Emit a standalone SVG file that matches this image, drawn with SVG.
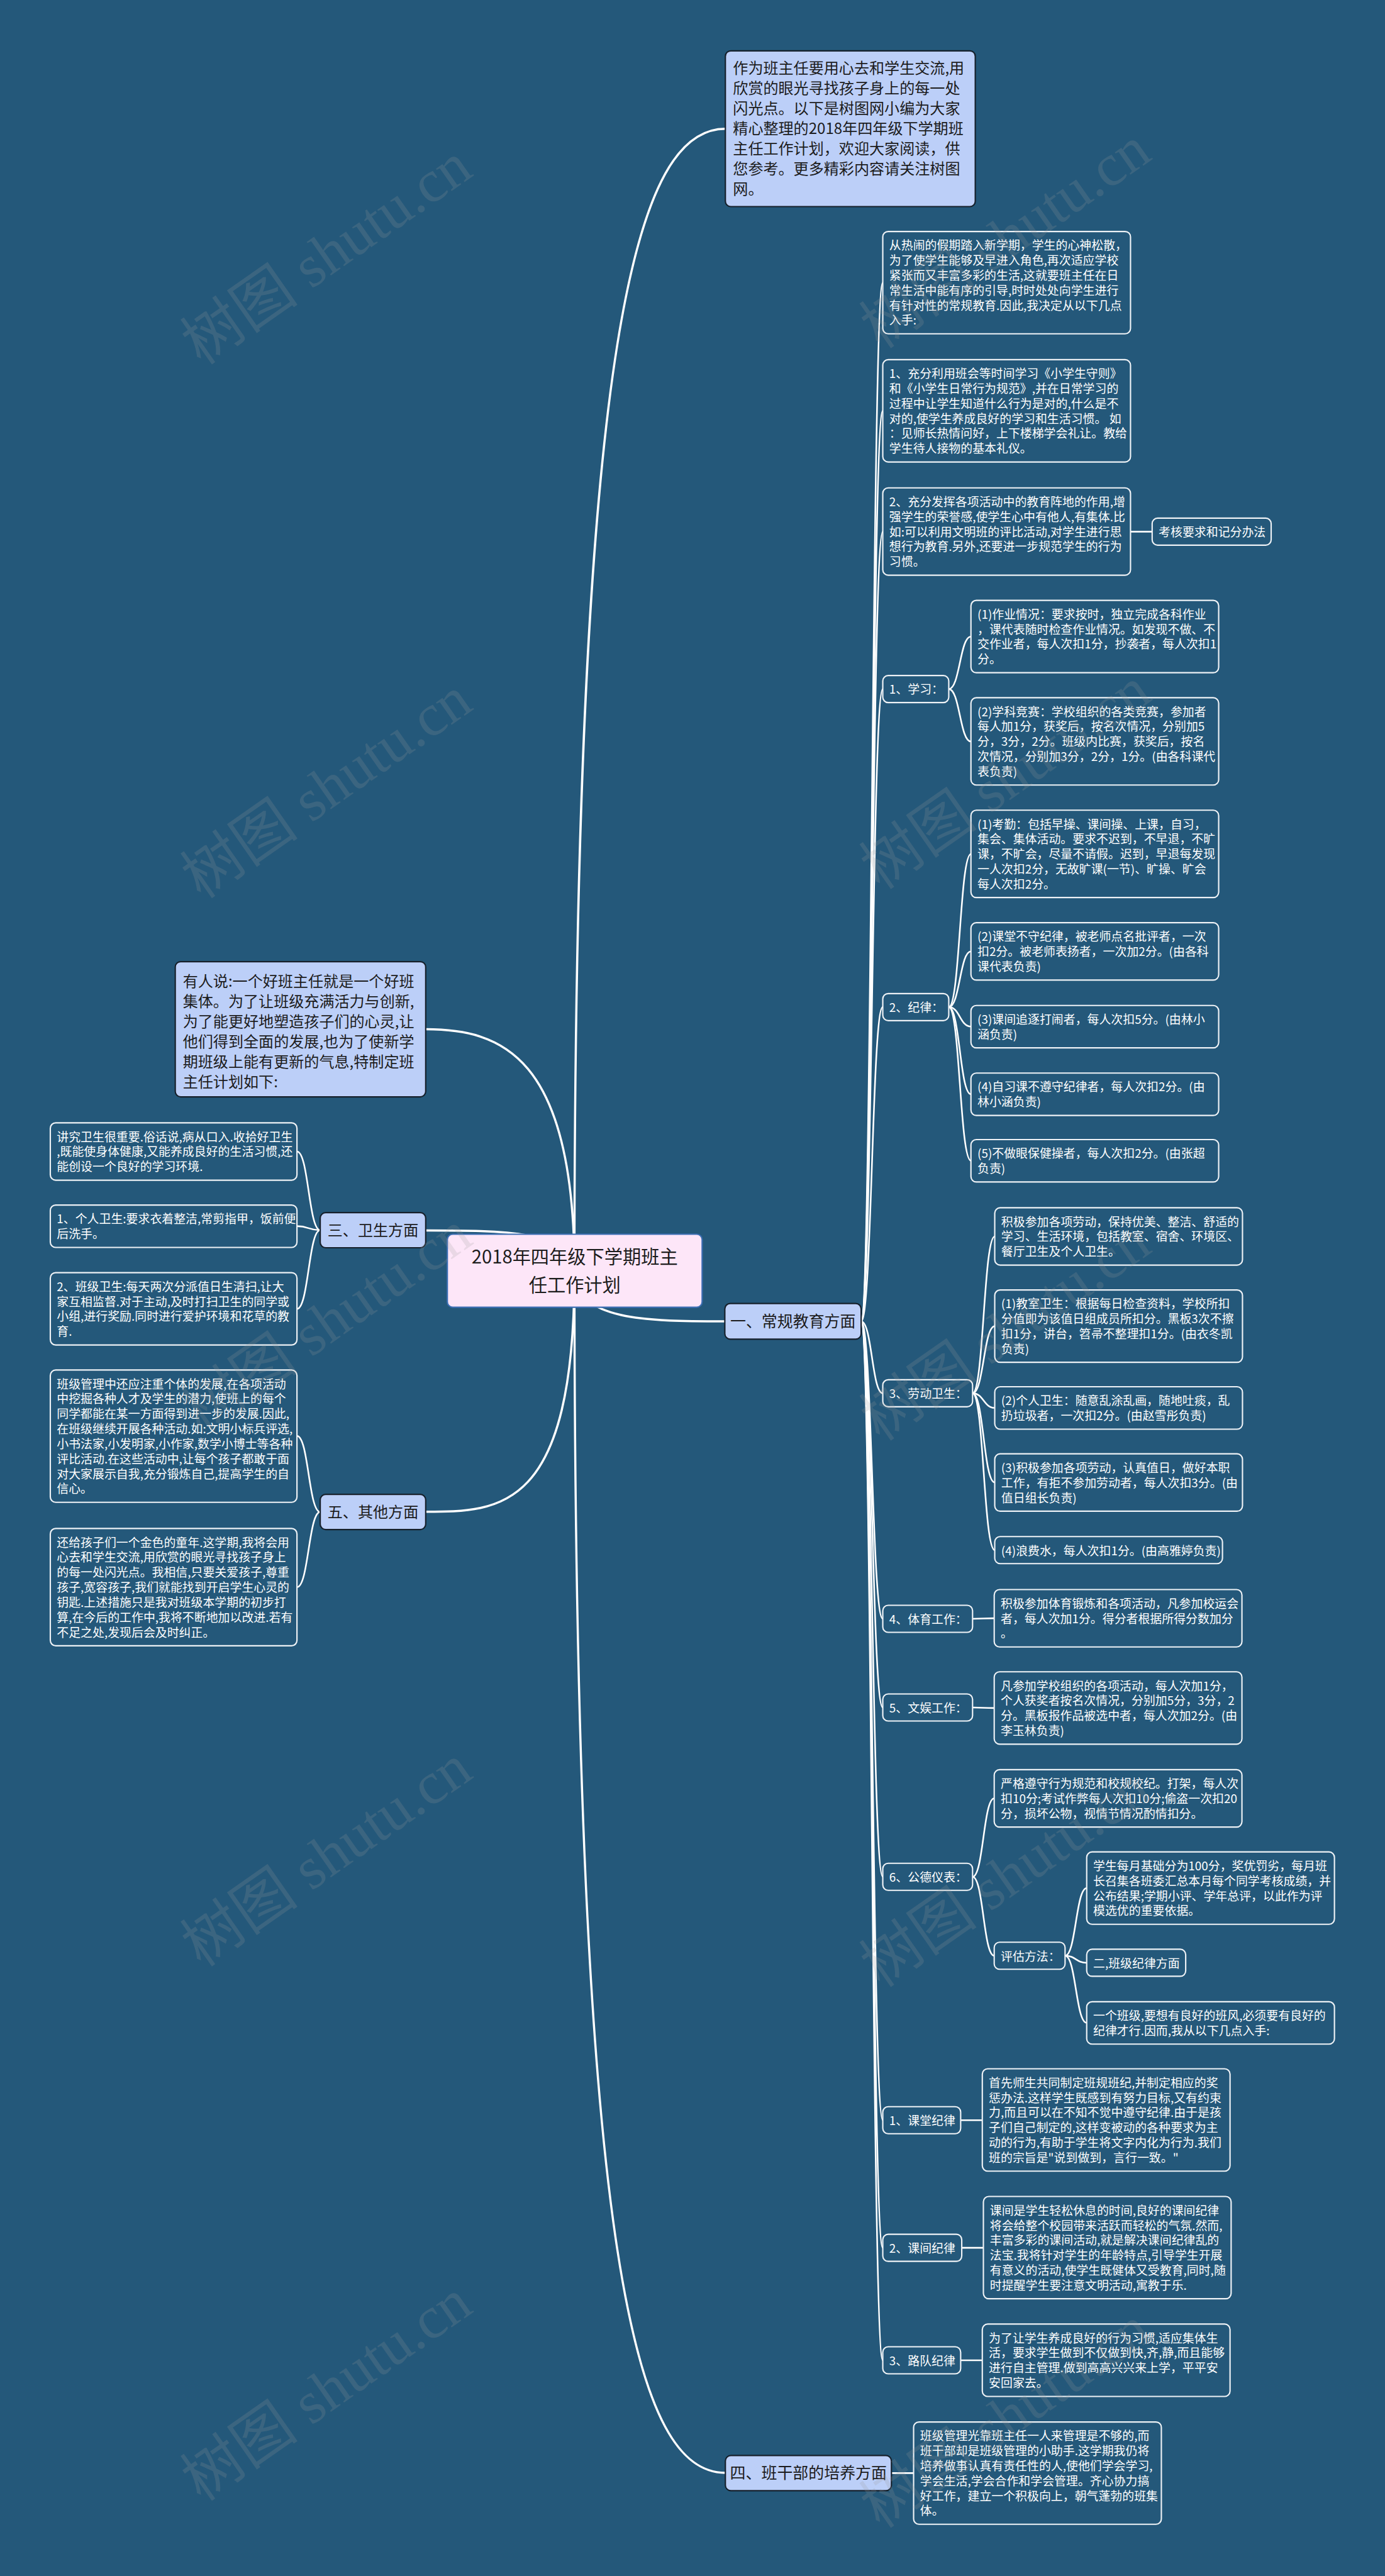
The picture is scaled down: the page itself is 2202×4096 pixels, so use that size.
<svg xmlns="http://www.w3.org/2000/svg" width="2202" height="4096" viewBox="0 0 2202 4096">
<style>
.s{font-family:"Noto Sans CJK SC","Noto Sans",sans-serif;font-size:22px;fill:#ffffff}
.m{font-family:"Noto Sans CJK SC","Noto Sans",sans-serif;font-size:28px;fill:#1c1c1c}
.h{font-family:"Noto Sans CJK SC","Noto Sans",sans-serif;fill:#1c1c1c;text-anchor:middle}
.dk{fill:#24587a;stroke:#eef2f6;stroke-width:2.5}
.lt{fill:#bccff8;stroke:#16202b;stroke-width:2.5}
.rt{fill:#fde6f8;stroke:#3c6fb4;stroke-width:2.5}
.c{fill:none;stroke:#ffffff;stroke-width:3;stroke-linecap:round}
.c0{fill:none;stroke:#ffffff;stroke-width:4;stroke-linecap:round}
.wm{font-family:"Liberation Serif","Noto Sans CJK SC",serif;font-size:110px;fill:#9a9a9a;fill-opacity:0.2;text-anchor:middle}
</style>
<rect width="2202" height="4096" fill="#24587a"/>
<g transform="scale(0.86)">
<g id="connectors">
<path class="c0" d="M1062 2350 C1062 600 1180 238 1341 238"/>
<path class="c0" d="M1062 2350 C1062 2443 1200 2443 1340 2443"/>
<path class="c0" d="M1062 2350 C1062 4210 1180 4572 1341 4572"/>
<path class="c0" d="M1062 2350 C1062 1950 925 1903 787 1903"/>
<path class="c0" d="M1062 2350 C1062 2275 925 2275 787 2275"/>
<path class="c0" d="M1062 2350 C1062 2795 925 2795 787 2795"/>
<path class="c" d="M1592 2443 C1612 2443 1612 522.6 1632 522.6"/>
<path class="c" d="M1592 2443 C1612 2443 1612 759.6 1632 759.6"/>
<path class="c" d="M1592 2443 C1612 2443 1612 982.75 1632 982.75"/>
<path class="c" d="M1592 2443 C1612 2443 1612 1274 1632 1274"/>
<path class="c" d="M1592 2443 C1612 2443 1612 1862 1632 1862"/>
<path class="c" d="M1592 2443 C1612 2443 1612 2576 1632 2576"/>
<path class="c" d="M1592 2443 C1612 2443 1612 2993 1632 2993"/>
<path class="c" d="M1592 2443 C1612 2443 1612 3157 1632 3157"/>
<path class="c" d="M1592 2443 C1612 2443 1612 3470 1632 3470"/>
<path class="c" d="M1592 2443 C1612 2443 1612 3920 1632 3920"/>
<path class="c" d="M1592 2443 C1612 2443 1612 4156 1632 4156"/>
<path class="c" d="M1592 2443 C1612 2443 1612 4364 1632 4364"/>
<path class="c" d="M2090 983 L2130 983"/>
<path class="c" d="M1754 1274 C1774.5 1274 1774.5 1177 1795 1177"/>
<path class="c" d="M1754 1274 C1774.5 1274 1774.5 1371 1795 1371"/>
<path class="c" d="M1754 1862 C1774.5 1862 1774.5 1579 1795 1579"/>
<path class="c" d="M1754 1862 C1774.5 1862 1774.5 1759 1795 1759"/>
<path class="c" d="M1754 1862 C1774.5 1862 1774.5 1898 1795 1898"/>
<path class="c" d="M1754 1862 C1774.5 1862 1774.5 2023 1795 2023"/>
<path class="c" d="M1754 1862 C1774.5 1862 1774.5 2146 1795 2146"/>
<path class="c" d="M1798 2576 C1818.5 2576 1818.5 2286 1839 2286"/>
<path class="c" d="M1798 2576 C1818.5 2576 1818.5 2452 1839 2452"/>
<path class="c" d="M1798 2576 C1818.5 2576 1818.5 2603 1839 2603"/>
<path class="c" d="M1798 2576 C1818.5 2576 1818.5 2741 1839 2741"/>
<path class="c" d="M1798 2576 C1818.5 2576 1818.5 2866 1839 2866"/>
<path class="c" d="M1798 2993 C1818 2993 1818 2992 1838 2992"/>
<path class="c" d="M1798 3157 C1818 3157 1818 3158 1838 3158"/>
<path class="c" d="M1798 3470 C1818 3470 1818 3325 1838 3325"/>
<path class="c" d="M1798 3470 C1818 3470 1818 3616 1838 3616"/>
<path class="c" d="M1969 3616 C1989 3616 1989 3491 2009 3491"/>
<path class="c" d="M1969 3616 C1989 3616 1989 3629 2009 3629"/>
<path class="c" d="M1969 3616 C1989 3616 1989 3740 2009 3740"/>
<path class="c" d="M1776 3920 L1816 3920"/>
<path class="c" d="M1778 4156 L1818 4156"/>
<path class="c" d="M1776 4364 L1816 4364"/>
<path class="c" d="M1648 4572.5 L1689 4572.5"/>
<path class="c" d="M592 2274.5 C570.5 2274.5 570.5 2129 549 2129"/>
<path class="c" d="M592 2274.5 C570.5 2274.5 570.5 2267 549 2267"/>
<path class="c" d="M592 2274.5 C570.5 2274.5 570.5 2420 549 2420"/>
<path class="c" d="M592 2795.5 C570.5 2795.5 570.5 2655 549 2655"/>
<path class="c" d="M592 2795.5 C570.5 2795.5 570.5 2934.5 549 2934.5"/>
</g>

<g id="root"><rect class="rt" x="827" y="2282" width="471" height="135" rx="10"/>
<text class="h" font-size="34" x="1062.5" y="2336">2018年四年级下学期班主<tspan x="1062.5" dy="52">任工作计划</tspan></text></g>

<g id="intro"><rect class="lt" x="1341" y="94" width="462" height="288" rx="10"/>
<text class="m" x="1355" y="136"><tspan x="1355" dy="0">作为班主任要用心去和学生交流,用</tspan><tspan x="1355" dy="37.3">欣赏的眼光寻找孩子身上的每一处</tspan><tspan x="1355" dy="37.3">闪光点。以下是树图网小编为大家</tspan><tspan x="1355" dy="37.3">精心整理的2018年四年级下学期班</tspan><tspan x="1355" dy="37.3">主任工作计划，欢迎大家阅读，供</tspan><tspan x="1355" dy="37.3">您参考。更多精彩内容请关注树图</tspan><tspan x="1355" dy="37.3">网。</tspan></text></g>

<g id="n1"><rect class="lt" x="1340" y="2410" width="252" height="66" rx="10"/>
<text class="h" font-size="29" x="1466" y="2454">一、常规教育方面</text></g>

<g id="a1"><rect class="dk" x="1632" y="428" width="458" height="189.2" rx="10"/>
<text class="s" x="1644" y="462"><tspan x="1644" dy="0">从热闹的假期踏入新学期，学生的心神松散，</tspan><tspan x="1644" dy="27.7">为了使学生能够及早进入角色,再次适应学校</tspan><tspan x="1644" dy="27.7">紧张而又丰富多彩的生活,这就要班主任在日</tspan><tspan x="1644" dy="27.7">常生活中能有序的引导,时时处处向学生进行</tspan><tspan x="1644" dy="27.7">有针对性的常规教育.因此,我决定从以下几点</tspan><tspan x="1644" dy="27.7">入手:</tspan></text></g>

<g id="a2"><rect class="dk" x="1632" y="665" width="458" height="189.2" rx="10"/>
<text class="s" x="1644" y="699"><tspan x="1644" dy="0">1、充分利用班会等时间学习《小学生守则》</tspan><tspan x="1644" dy="27.7">和《小学生日常行为规范》,并在日常学习的</tspan><tspan x="1644" dy="27.7">过程中让学生知道什么行为是对的,什么是不</tspan><tspan x="1644" dy="27.7">对的,使学生养成良好的学习和生活习惯。 如</tspan><tspan x="1644" dy="27.7">：见师长热情问好，上下楼梯学会礼让。教给</tspan><tspan x="1644" dy="27.7">学生待人接物的基本礼仪。</tspan></text></g>

<g id="a3"><rect class="dk" x="1632" y="902" width="458" height="161.5" rx="10"/>
<text class="s" x="1644" y="936"><tspan x="1644" dy="0">2、充分发挥各项活动中的教育阵地的作用,增</tspan><tspan x="1644" dy="27.7">强学生的荣誉感,使学生心中有他人,有集体.比</tspan><tspan x="1644" dy="27.7">如:可以利用文明班的评比活动,对学生进行思</tspan><tspan x="1644" dy="27.7">想行为教育.另外,还要进一步规范学生的行为</tspan><tspan x="1644" dy="27.7">习惯。</tspan></text></g>

<g id="a3k"><rect class="dk" x="2130" y="958" width="220" height="50" rx="10"/>
<text class="s" x="2142" y="992">考核要求和记分办法</text></g>

<g id="b1"><rect class="dk" x="1632" y="1249" width="122" height="50" rx="10"/>
<text class="s" x="1644" y="1283">1、学习：</text></g>

<g id="b1a"><rect class="dk" x="1795" y="1110" width="458" height="133.8" rx="10"/>
<text class="s" x="1807" y="1144"><tspan x="1807" dy="0">(1)作业情况：要求按时，独立完成各科作业</tspan><tspan x="1807" dy="27.7">，课代表随时检查作业情况。如发现不做、不</tspan><tspan x="1807" dy="27.7">交作业者，每人次扣1分，抄袭者，每人次扣1</tspan><tspan x="1807" dy="27.7">分。</tspan></text></g>

<g id="b1b"><rect class="dk" x="1795" y="1290" width="458" height="161.5" rx="10"/>
<text class="s" x="1807" y="1324"><tspan x="1807" dy="0">(2)学科竞赛：学校组织的各类竞赛，参加者</tspan><tspan x="1807" dy="27.7">每人加1分，获奖后，按名次情况，分别加5</tspan><tspan x="1807" dy="27.7">分，3分，2分。班级内比赛，获奖后，按名</tspan><tspan x="1807" dy="27.7">次情况，分别加3分，2分，1分。(由各科课代</tspan><tspan x="1807" dy="27.7">表负责)</tspan></text></g>

<g id="b2"><rect class="dk" x="1632" y="1837" width="122" height="50" rx="10"/>
<text class="s" x="1644" y="1871">2、纪律：</text></g>

<g id="b2a"><rect class="dk" x="1795" y="1498" width="458" height="161.5" rx="10"/>
<text class="s" x="1807" y="1532"><tspan x="1807" dy="0">(1)考勤：包括早操、课间操、上课，自习，</tspan><tspan x="1807" dy="27.7">集会、集体活动。要求不迟到，不早退，不旷</tspan><tspan x="1807" dy="27.7">课，不旷会，尽量不请假。迟到，早退每发现</tspan><tspan x="1807" dy="27.7">一人次扣2分，无故旷课(一节)、旷操、旷会</tspan><tspan x="1807" dy="27.7">每人次扣2分。</tspan></text></g>

<g id="b2b"><rect class="dk" x="1795" y="1706" width="458" height="106.1" rx="10"/>
<text class="s" x="1807" y="1740"><tspan x="1807" dy="0">(2)课堂不守纪律，被老师点名批评者，一次</tspan><tspan x="1807" dy="27.7">扣2分。被老师表扬者，一次加2分。(由各科</tspan><tspan x="1807" dy="27.7">课代表负责)</tspan></text></g>

<g id="b2c"><rect class="dk" x="1795" y="1859" width="458" height="78.4" rx="10"/>
<text class="s" x="1807" y="1893"><tspan x="1807" dy="0">(3)课间追逐打闹者，每人次扣5分。(由林小</tspan><tspan x="1807" dy="27.7">涵负责)</tspan></text></g>

<g id="b2d"><rect class="dk" x="1795" y="1984" width="458" height="78.4" rx="10"/>
<text class="s" x="1807" y="2018"><tspan x="1807" dy="0">(4)自习课不遵守纪律者，每人次扣2分。(由</tspan><tspan x="1807" dy="27.7">林小涵负责)</tspan></text></g>

<g id="b2e"><rect class="dk" x="1795" y="2107" width="458" height="78.4" rx="10"/>
<text class="s" x="1807" y="2141"><tspan x="1807" dy="0">(5)不做眼保健操者，每人次扣2分。(由张超</tspan><tspan x="1807" dy="27.7">负责)</tspan></text></g>

<g id="b3"><rect class="dk" x="1632" y="2551" width="166" height="50" rx="10"/>
<text class="s" x="1644" y="2585">3、劳动卫生：</text></g>

<g id="b3a"><rect class="dk" x="1839" y="2233" width="458" height="106.1" rx="10"/>
<text class="s" x="1851" y="2267"><tspan x="1851" dy="0">积极参加各项劳动，保持优美、整洁、舒适的</tspan><tspan x="1851" dy="27.7">学习、生活环境，包括教室、宿舍、环境区、</tspan><tspan x="1851" dy="27.7">餐厅卫生及个人卫生。</tspan></text></g>

<g id="b3b"><rect class="dk" x="1839" y="2385" width="458" height="133.8" rx="10"/>
<text class="s" x="1851" y="2419"><tspan x="1851" dy="0">(1)教室卫生：根据每日检查资料，学校所扣</tspan><tspan x="1851" dy="27.7">分值即为该值日组成员所扣分。黑板3次不擦</tspan><tspan x="1851" dy="27.7">扣1分，讲台，笤帚不整理扣1分。(由衣冬凯</tspan><tspan x="1851" dy="27.7">负责)</tspan></text></g>

<g id="b3c"><rect class="dk" x="1839" y="2564" width="458" height="78.4" rx="10"/>
<text class="s" x="1851" y="2598"><tspan x="1851" dy="0">(2)个人卫生：随意乱涂乱画，随地吐痰，乱</tspan><tspan x="1851" dy="27.7">扔垃圾者，一次扣2分。(由赵雪彤负责)</tspan></text></g>

<g id="b3d"><rect class="dk" x="1839" y="2688" width="458" height="106.1" rx="10"/>
<text class="s" x="1851" y="2722"><tspan x="1851" dy="0">(3)积极参加各项劳动，认真值日，做好本职</tspan><tspan x="1851" dy="27.7">工作，有拒不参加劳动者，每人次扣3分。(由</tspan><tspan x="1851" dy="27.7">值日组长负责)</tspan></text></g>

<g id="b3e"><rect class="dk" x="1839" y="2841" width="421" height="50" rx="10"/>
<text class="s" x="1851" y="2875">(4)浪费水，每人次扣1分。(由高雅婷负责)</text></g>

<g id="b4"><rect class="dk" x="1632" y="2968" width="166" height="50" rx="10"/>
<text class="s" x="1644" y="3002">4、体育工作：</text></g>

<g id="b4a"><rect class="dk" x="1838" y="2939" width="458" height="106.1" rx="10"/>
<text class="s" x="1850" y="2973"><tspan x="1850" dy="0">积极参加体育锻炼和各项活动，凡参加校运会</tspan><tspan x="1850" dy="27.7">者，每人次加1分。得分者根据所得分数加分</tspan><tspan x="1850" dy="27.7">。</tspan></text></g>

<g id="b5"><rect class="dk" x="1632" y="3132" width="166" height="50" rx="10"/>
<text class="s" x="1644" y="3166">5、文娱工作：</text></g>

<g id="b5a"><rect class="dk" x="1838" y="3091" width="458" height="133.8" rx="10"/>
<text class="s" x="1850" y="3125"><tspan x="1850" dy="0">凡参加学校组织的各项活动，每人次加1分，</tspan><tspan x="1850" dy="27.7">个人获奖者按名次情况，分别加5分，3分，2</tspan><tspan x="1850" dy="27.7">分。黑板报作品被选中者，每人次加2分。(由</tspan><tspan x="1850" dy="27.7">李玉林负责)</tspan></text></g>

<g id="b6"><rect class="dk" x="1632" y="3445" width="166" height="50" rx="10"/>
<text class="s" x="1644" y="3479">6、公德仪表：</text></g>

<g id="b6a"><rect class="dk" x="1838" y="3272" width="458" height="106.1" rx="10"/>
<text class="s" x="1850" y="3306"><tspan x="1850" dy="0">严格遵守行为规范和校规校纪。打架，每人次</tspan><tspan x="1850" dy="27.7">扣10分;考试作弊每人次扣10分;偷盗一次扣20</tspan><tspan x="1850" dy="27.7">分，损坏公物，视情节情况酌情扣分。</tspan></text></g>

<g id="b6b"><rect class="dk" x="1838" y="3591" width="131" height="50" rx="10"/>
<text class="s" x="1850" y="3625">评估方法：</text></g>

<g id="b6b1"><rect class="dk" x="2009" y="3424" width="458" height="133.8" rx="10"/>
<text class="s" x="2021" y="3458"><tspan x="2021" dy="0">学生每月基础分为100分，奖优罚劣，每月班</tspan><tspan x="2021" dy="27.7">长召集各班委汇总本月每个同学考核成绩，并</tspan><tspan x="2021" dy="27.7">公布结果;学期小评、学年总评，以此作为评</tspan><tspan x="2021" dy="27.7">模选优的重要依据。</tspan></text></g>

<g id="b6b2"><rect class="dk" x="2009" y="3604" width="183" height="50" rx="10"/>
<text class="s" x="2021" y="3638">二,班级纪律方面</text></g>

<g id="b6b3"><rect class="dk" x="2009" y="3701" width="458" height="78.4" rx="10"/>
<text class="s" x="2021" y="3735"><tspan x="2021" dy="0">一个班级,要想有良好的班风,必须要有良好的</tspan><tspan x="2021" dy="27.7">纪律才行.因而,我从以下几点入手:</tspan></text></g>

<g id="b7"><rect class="dk" x="1632" y="3895" width="144" height="50" rx="10"/>
<text class="s" x="1644" y="3929">1、课堂纪律</text></g>

<g id="b7a"><rect class="dk" x="1816" y="3825" width="458" height="189.2" rx="10"/>
<text class="s" x="1828" y="3859"><tspan x="1828" dy="0">首先师生共同制定班规班纪,并制定相应的奖</tspan><tspan x="1828" dy="27.7">惩办法.这样学生既感到有努力目标,又有约束</tspan><tspan x="1828" dy="27.7">力,而且可以在不知不觉中遵守纪律.由于是孩</tspan><tspan x="1828" dy="27.7">子们自己制定的,这样变被动的各种要求为主</tspan><tspan x="1828" dy="27.7">动的行为,有助于学生将文字内化为行为.我们</tspan><tspan x="1828" dy="27.7">班的宗旨是"说到做到，言行一致。"</tspan></text></g>

<g id="b8"><rect class="dk" x="1632" y="4131" width="146" height="50" rx="10"/>
<text class="s" x="1644" y="4165">2、课间纪律</text></g>

<g id="b8a"><rect class="dk" x="1818" y="4061" width="458" height="189.2" rx="10"/>
<text class="s" x="1830" y="4095"><tspan x="1830" dy="0">课间是学生轻松休息的时间,良好的课间纪律</tspan><tspan x="1830" dy="27.7">将会给整个校园带来活跃而轻松的气氛.然而,</tspan><tspan x="1830" dy="27.7">丰富多彩的课间活动,就是解决课间纪律乱的</tspan><tspan x="1830" dy="27.7">法宝.我将针对学生的年龄特点,引导学生开展</tspan><tspan x="1830" dy="27.7">有意义的活动,使学生既健体又受教育,同时,随</tspan><tspan x="1830" dy="27.7">时提醒学生要注意文明活动,寓教于乐.</tspan></text></g>

<g id="b9"><rect class="dk" x="1632" y="4339" width="144" height="50" rx="10"/>
<text class="s" x="1644" y="4373">3、路队纪律</text></g>

<g id="b9a"><rect class="dk" x="1816" y="4297" width="458" height="133.8" rx="10"/>
<text class="s" x="1828" y="4331"><tspan x="1828" dy="0">为了让学生养成良好的行为习惯,适应集体生</tspan><tspan x="1828" dy="27.7">活，要求学生做到不仅做到快,齐,静,而且能够</tspan><tspan x="1828" dy="27.7">进行自主管理.做到高高兴兴来上学，平平安</tspan><tspan x="1828" dy="27.7">安回家去。</tspan></text></g>

<g id="n4"><rect class="lt" x="1341" y="4540" width="307" height="65" rx="10"/>
<text class="h" font-size="29" x="1494.5" y="4583">四、班干部的培养方面</text></g>

<g id="n4a"><rect class="dk" x="1689" y="4478" width="458" height="189.2" rx="10"/>
<text class="s" x="1701" y="4512"><tspan x="1701" dy="0">班级管理光靠班主任一人来管理是不够的,而</tspan><tspan x="1701" dy="27.7">班干部却是班级管理的小助手.这学期我仍将</tspan><tspan x="1701" dy="27.7">培养做事认真有责任性的人,使他们学会学习,</tspan><tspan x="1701" dy="27.7">学会生活,学会合作和学会管理。齐心协力搞</tspan><tspan x="1701" dy="27.7">好工作，建立一个积极向上，朝气蓬勃的班集</tspan><tspan x="1701" dy="27.7">体。</tspan></text></g>

<g id="L0"><rect class="lt" x="324" y="1778" width="463" height="250" rx="10"/>
<text class="m" x="338" y="1824"><tspan x="338" dy="0">有人说:一个好班主任就是一个好班</tspan><tspan x="338" dy="37.2">集体。为了让班级充满活力与创新,</tspan><tspan x="338" dy="37.2">为了能更好地塑造孩子们的心灵,让</tspan><tspan x="338" dy="37.2">他们得到全面的发展,也为了使新学</tspan><tspan x="338" dy="37.2">期班级上能有更新的气息,特制定班</tspan><tspan x="338" dy="37.2">主任计划如下:</tspan></text></g>

<g id="n3"><rect class="lt" x="592" y="2242" width="195" height="65" rx="10"/>
<text class="h" font-size="28" x="689.5" y="2285">三、卫生方面</text></g>

<g id="n3a"><rect class="dk" x="93" y="2076" width="456" height="106.1" rx="10"/>
<text class="s" x="105" y="2110"><tspan x="105" dy="0">讲究卫生很重要.俗话说,病从口入.收拾好卫生</tspan><tspan x="105" dy="27.7">,既能使身体健康,又能养成良好的生活习惯,还</tspan><tspan x="105" dy="27.7">能创设一个良好的学习环境.</tspan></text></g>

<g id="n3b"><rect class="dk" x="93" y="2228" width="456" height="78.4" rx="10"/>
<text class="s" x="105" y="2262"><tspan x="105" dy="0">1、个人卫生:要求衣着整洁,常剪指甲，饭前便</tspan><tspan x="105" dy="27.7">后洗手。</tspan></text></g>

<g id="n3c"><rect class="dk" x="93" y="2353" width="456" height="133.8" rx="10"/>
<text class="s" x="105" y="2387"><tspan x="105" dy="0">2、班级卫生:每天两次分派值日生清扫,让大</tspan><tspan x="105" dy="27.7">家互相监督.对于主动,及时打扫卫生的同学或</tspan><tspan x="105" dy="27.7">小组,进行奖励.同时进行爱护环境和花草的教</tspan><tspan x="105" dy="27.7">育.</tspan></text></g>

<g id="n5"><rect class="lt" x="592" y="2763" width="195" height="65" rx="10"/>
<text class="h" font-size="28" x="689.5" y="2806">五、其他方面</text></g>

<g id="n5a"><rect class="dk" x="93" y="2533" width="456" height="244.6" rx="10"/>
<text class="s" x="105" y="2567"><tspan x="105" dy="0">班级管理中还应注重个体的发展,在各项活动</tspan><tspan x="105" dy="27.7">中挖掘各种人才及学生的潜力,使班上的每个</tspan><tspan x="105" dy="27.7">同学都能在某一方面得到进一步的发展.因此,</tspan><tspan x="105" dy="27.7">在班级继续开展各种活动.如:文明小标兵评选,</tspan><tspan x="105" dy="27.7">小书法家,小发明家,小作家,数学小博士等各种</tspan><tspan x="105" dy="27.7">评比活动.在这些活动中,让每个孩子都敢于面</tspan><tspan x="105" dy="27.7">对大家展示自我,充分锻炼自己,提高学生的自</tspan><tspan x="105" dy="27.7">信心。</tspan></text></g>

<g id="n5b"><rect class="dk" x="93" y="2826" width="456" height="216.9" rx="10"/>
<text class="s" x="105" y="2860"><tspan x="105" dy="0">还给孩子们一个金色的童年.这学期,我将会用</tspan><tspan x="105" dy="27.7">心去和学生交流,用欣赏的眼光寻找孩子身上</tspan><tspan x="105" dy="27.7">的每一处闪光点。我相信,只要关爱孩子,尊重</tspan><tspan x="105" dy="27.7">孩子,宽容孩子,我们就能找到开启学生心灵的</tspan><tspan x="105" dy="27.7">钥匙.上述措施只是我对班级本学期的初步打</tspan><tspan x="105" dy="27.7">算,在今后的工作中,我将不断地加以改进.若有</tspan><tspan x="105" dy="27.7">不足之处,发现后会及时纠正。</tspan></text></g>

<g id="watermark">
<text class="wm" transform="translate(625 500) rotate(-35)">树图 shutu.cn</text>
<text class="wm" transform="translate(625 1487) rotate(-35)">树图 shutu.cn</text>
<text class="wm" transform="translate(625 2475) rotate(-35)">树图 shutu.cn</text>
<text class="wm" transform="translate(625 3462) rotate(-35)">树图 shutu.cn</text>
<text class="wm" transform="translate(625 4450) rotate(-35)">树图 shutu.cn</text>
<text class="wm" transform="translate(1880 470) rotate(-35)">树图 shutu.cn</text>
<text class="wm" transform="translate(1880 1470) rotate(-35)">树图 shutu.cn</text>
<text class="wm" transform="translate(1880 2490) rotate(-35)">树图 shutu.cn</text>
<text class="wm" transform="translate(1880 3500) rotate(-35)">树图 shutu.cn</text>
<text class="wm" transform="translate(1880 4500) rotate(-35)">树图 shutu.cn</text>
</g>
</g>
</svg>
